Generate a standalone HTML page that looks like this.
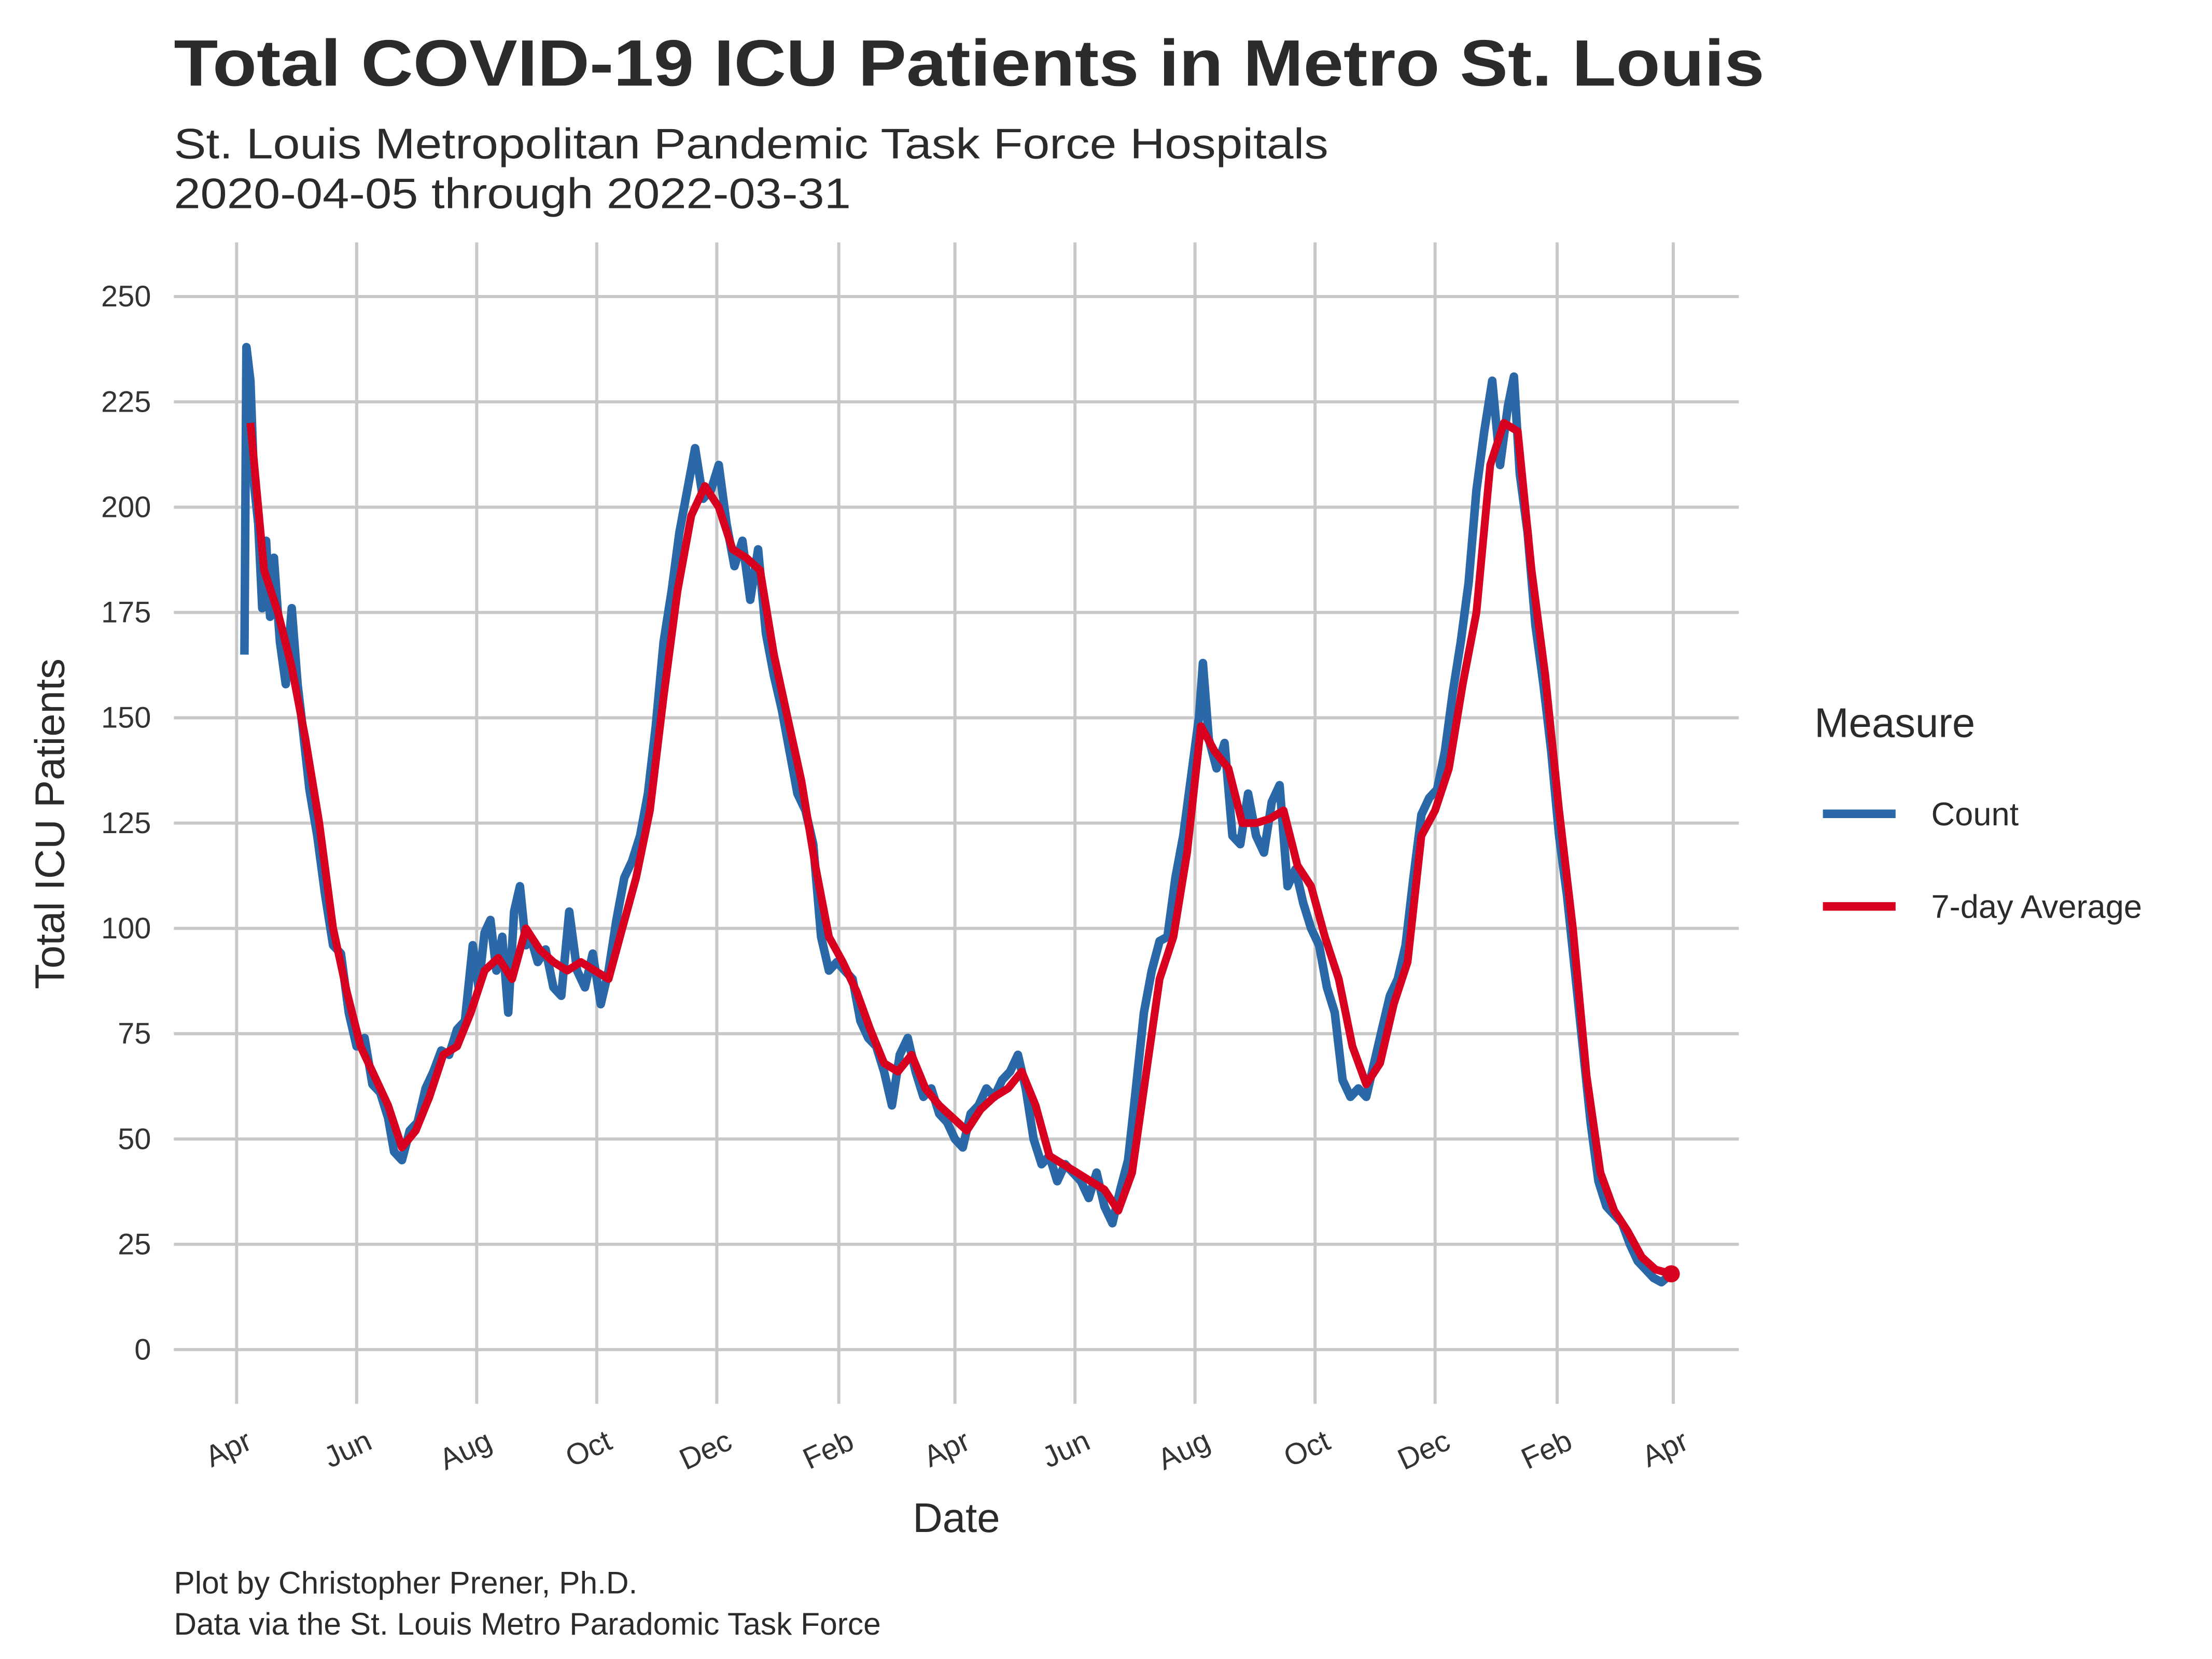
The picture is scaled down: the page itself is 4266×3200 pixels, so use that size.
<!DOCTYPE html>
<html><head><meta charset="utf-8"><style>
html,body{margin:0;padding:0;background:#fff}
svg{display:block}
text{font-family:"Liberation Sans",sans-serif}
</style></head><body>
<svg id="chart" width="4266" height="3200" viewBox="0 0 1552 1164" xmlns="http://www.w3.org/2000/svg">
<rect width="1552" height="1164" fill="#fff"/>
<text x="122" y="60" font-size="46" font-weight="bold" fill="#2b2b2b" textLength="1116" lengthAdjust="spacingAndGlyphs">Total COVID-19 ICU Patients in Metro St. Louis</text>
<text x="122" y="111" font-size="30" fill="#2b2b2b" textLength="810" lengthAdjust="spacingAndGlyphs">St. Louis Metropolitan Pandemic Task Force Hospitals</text>
<text x="122" y="146" font-size="30" fill="#2b2b2b" textLength="475" lengthAdjust="spacingAndGlyphs">2020-04-05 through 2022-03-31</text>
<g id="grid"></g>
<g id="yticks"></g>
<g id="xticks"></g>
<g id="series"></g>
<text transform="translate(45,578) rotate(-90)" text-anchor="middle" font-size="29" fill="#2b2b2b">Total ICU Patients</text>
<text x="671" y="1075" text-anchor="middle" font-size="29" fill="#2b2b2b">Date</text>
<g>
<text x="1273" y="517" font-size="29" fill="#2b2b2b">Measure</text>
<line x1="1279" y1="571" x2="1330" y2="571" stroke="#2b68a8" stroke-width="6"/>
<text x="1355" y="579" font-size="23" fill="#2b2b2b">Count</text>
<line x1="1279" y1="636" x2="1330" y2="636" stroke="#d7001f" stroke-width="6"/>
<text x="1355" y="644" font-size="23" fill="#2b2b2b">7-day Average</text>
</g>
<text x="122" y="1118" font-size="22" fill="#2b2b2b">Plot by Christopher Prener, Ph.D.</text>
<text x="122" y="1147" font-size="22" fill="#2b2b2b">Data via the St. Louis Metro Paradomic Task Force</text>
</svg>
<script>
const yTicks=[0,25,50,75,100,125,150,175,200,225,250];
const xTickDates=["2020-04-01","2020-06-01","2020-08-01","2020-10-01","2020-12-01","2021-02-01","2021-04-01","2021-06-01","2021-08-01","2021-10-01","2021-12-01","2022-02-01","2022-04-01"];
const xTickLabels=["Apr","Jun","Aug","Oct","Dec","Feb","Apr","Jun","Aug","Oct","Dec","Feb","Apr"];
const countDates=["2020-04-05","2020-04-06","2020-04-08","2020-04-10","2020-04-12","2020-04-14","2020-04-16","2020-04-18","2020-04-20","2020-04-23","2020-04-26","2020-04-29","2020-05-02","2020-05-05","2020-05-08","2020-05-12","2020-05-16","2020-05-20","2020-05-24","2020-05-28","2020-06-01","2020-06-05","2020-06-09","2020-06-13","2020-06-17","2020-06-20","2020-06-24","2020-06-28","2020-07-02","2020-07-06","2020-07-10","2020-07-14","2020-07-18","2020-07-22","2020-07-26","2020-07-30","2020-08-02","2020-08-05","2020-08-08","2020-08-11","2020-08-14","2020-08-17","2020-08-20","2020-08-23","2020-08-26","2020-08-29","2020-09-01","2020-09-05","2020-09-09","2020-09-13","2020-09-17","2020-09-21","2020-09-25","2020-09-29","2020-10-03","2020-10-07","2020-10-11","2020-10-15","2020-10-19","2020-10-23","2020-10-27","2020-10-31","2020-11-04","2020-11-08","2020-11-12","2020-11-16","2020-11-20","2020-11-24","2020-11-28","2020-12-02","2020-12-06","2020-12-10","2020-12-14","2020-12-18","2020-12-22","2020-12-26","2020-12-30","2021-01-03","2021-01-07","2021-01-11","2021-01-15","2021-01-19","2021-01-23","2021-01-27","2021-01-31","2021-02-04","2021-02-08","2021-02-12","2021-02-16","2021-02-20","2021-02-24","2021-02-28","2021-03-04","2021-03-08","2021-03-12","2021-03-16","2021-03-20","2021-03-24","2021-03-28","2021-04-01","2021-04-05","2021-04-09","2021-04-13","2021-04-17","2021-04-21","2021-04-25","2021-04-29","2021-05-03","2021-05-07","2021-05-11","2021-05-15","2021-05-19","2021-05-23","2021-05-27","2021-05-31","2021-06-04","2021-06-08","2021-06-12","2021-06-16","2021-06-20","2021-06-24","2021-06-28","2021-07-02","2021-07-06","2021-07-10","2021-07-14","2021-07-18","2021-07-22","2021-07-26","2021-07-30","2021-08-03","2021-08-05","2021-08-08","2021-08-12","2021-08-16","2021-08-20","2021-08-24","2021-08-28","2021-09-01","2021-09-05","2021-09-09","2021-09-13","2021-09-17","2021-09-21","2021-09-25","2021-09-29","2021-10-03","2021-10-07","2021-10-11","2021-10-15","2021-10-19","2021-10-23","2021-10-27","2021-10-31","2021-11-04","2021-11-08","2021-11-12","2021-11-16","2021-11-20","2021-11-24","2021-11-28","2021-12-02","2021-12-06","2021-12-10","2021-12-14","2021-12-18","2021-12-22","2021-12-26","2021-12-30","2022-01-03","2022-01-07","2022-01-10","2022-01-13","2022-01-17","2022-01-21","2022-01-25","2022-01-29","2022-02-02","2022-02-06","2022-02-10","2022-02-14","2022-02-18","2022-02-22","2022-02-26","2022-03-02","2022-03-06","2022-03-10","2022-03-14","2022-03-18","2022-03-22","2022-03-26","2022-03-31"];
const countValues=[165,238,230,205,196,176,192,174,188,168,158,176,158,146,133,122,108,96,94,80,72,74,63,61,55,47,45,52,54,62,66,71,70,76,78,96,86,99,102,90,98,80,104,110,96,97,92,95,86,84,104,90,86,94,82,90,102,112,116,122,132,148,168,180,194,204,214,202,204,210,196,186,192,178,190,170,160,152,142,132,128,120,98,90,92,90,88,78,74,72,66,58,70,74,66,60,62,56,54,50,48,56,58,62,60,64,66,70,62,50,44,46,40,44,42,40,36,42,34,30,38,45,62,80,90,97,98,112,122,136,150,163,145,138,144,122,120,132,122,118,130,134,110,114,106,100,96,86,80,64,60,62,60,68,76,84,88,96,112,127,131,133,142,156,168,182,204,218,230,210,224,231,208,194,172,158,142,122,108,90,72,54,40,34,32,30,25,21,19,17,16,18];
const avgDates=["2020-04-08","2020-04-15","2020-04-22","2020-04-29","2020-05-06","2020-05-13","2020-05-20","2020-05-27","2020-06-03","2020-06-10","2020-06-17","2020-06-24","2020-07-01","2020-07-08","2020-07-15","2020-07-22","2020-07-29","2020-08-05","2020-08-12","2020-08-19","2020-08-26","2020-09-02","2020-09-09","2020-09-16","2020-09-23","2020-09-30","2020-10-07","2020-10-14","2020-10-21","2020-10-28","2020-11-04","2020-11-11","2020-11-18","2020-11-25","2020-12-02","2020-12-09","2020-12-16","2020-12-23","2020-12-30","2021-01-06","2021-01-13","2021-01-20","2021-01-27","2021-02-03","2021-02-10","2021-02-17","2021-02-24","2021-03-03","2021-03-10","2021-03-17","2021-03-24","2021-03-31","2021-04-07","2021-04-14","2021-04-21","2021-04-28","2021-05-05","2021-05-12","2021-05-19","2021-05-26","2021-06-02","2021-06-09","2021-06-16","2021-06-23","2021-06-30","2021-07-07","2021-07-14","2021-07-21","2021-07-28","2021-08-04","2021-08-11","2021-08-18","2021-08-25","2021-09-01","2021-09-08","2021-09-15","2021-09-22","2021-09-29","2021-10-06","2021-10-13","2021-10-20","2021-10-27","2021-11-03","2021-11-10","2021-11-17","2021-11-24","2021-12-01","2021-12-08","2021-12-15","2021-12-22","2021-12-29","2022-01-05","2022-01-12","2022-01-19","2022-01-26","2022-02-02","2022-02-09","2022-02-16","2022-02-23","2022-03-02","2022-03-09","2022-03-16","2022-03-23","2022-03-31"];
const avgValues=[220,185,175,162,145,125,100,85,72,65,58,48,52,60,70,72,80,90,93,88,100,95,92,90,92,90,88,100,112,128,155,180,198,205,200,190,188,185,165,150,135,115,98,92,85,76,68,66,70,62,58,55,52,57,60,62,66,58,46,44,42,40,38,33,42,65,88,98,118,148,142,138,125,125,126,128,115,110,98,88,72,63,68,82,92,122,128,138,158,175,210,220,218,185,160,128,100,65,42,33,28,22,19,18];

const NS="http://www.w3.org/2000/svg";
const X0=166, PXDAY=1008/730, Y0=947, PXUNIT=(947-208)/250;
const base=Date.UTC(2020,3,1);
function xScale(d){const p=d.split("-");return X0+(Date.UTC(+p[0],+p[1]-1,+p[2])-base)/86400000*PXDAY;}
function yScale(v){return Y0-v*PXUNIT;}
function mk(tag,attrs,parent){const e=document.createElementNS(NS,tag);for(const k in attrs)e.setAttribute(k,attrs[k]);parent.appendChild(e);return e;}
const grid=document.getElementById("grid"),yt=document.getElementById("yticks"),xt=document.getElementById("xticks"),ser=document.getElementById("series");
yTicks.forEach(v=>{
  const l=mk("line",{x1:122,x2:1220,y1:yScale(v),y2:yScale(v),stroke:"#c8c8c8","stroke-width":2.2},grid);
  
  
  const t=mk("text",{x:106,y:yScale(v)+7,"text-anchor":"end","font-size":21,fill:"#333"},yt);
  t.textContent=v;
  
  
});
xTickDates.forEach((d,i)=>{
  const x=xScale(d);
  const l=mk("line",{x1:x,x2:x,y1:170,y2:985,stroke:"#c8c8c8","stroke-width":2.2},grid);
  
  
  const t=mk("text",{transform:`translate(${x+12},${1016}) rotate(-25)`,"text-anchor":"end","font-size":21,fill:"#333"},xt);
  t.textContent=xTickLabels[i];
  
  
});
function pathFrom(dates,vals){return dates.map((d,i)=>(i?"L":"M")+xScale(d).toFixed(1)+","+yScale(vals[i]).toFixed(1)).join(" ");}
const pc=mk("path",{d:pathFrom(countDates,countValues),fill:"none",stroke:"#2b68a8","stroke-width":6,"stroke-linejoin":"round"},ser);


const pa=mk("path",{d:pathFrom(avgDates,avgValues),fill:"none",stroke:"#d7001f","stroke-width":5.5,"stroke-linejoin":"round"},ser);


const n=avgDates.length-1;
const dot=mk("circle",{cx:xScale(avgDates[n]),cy:yScale(avgValues[n]),r:6,fill:"#d7001f"},ser);


</script>
</body></html>
